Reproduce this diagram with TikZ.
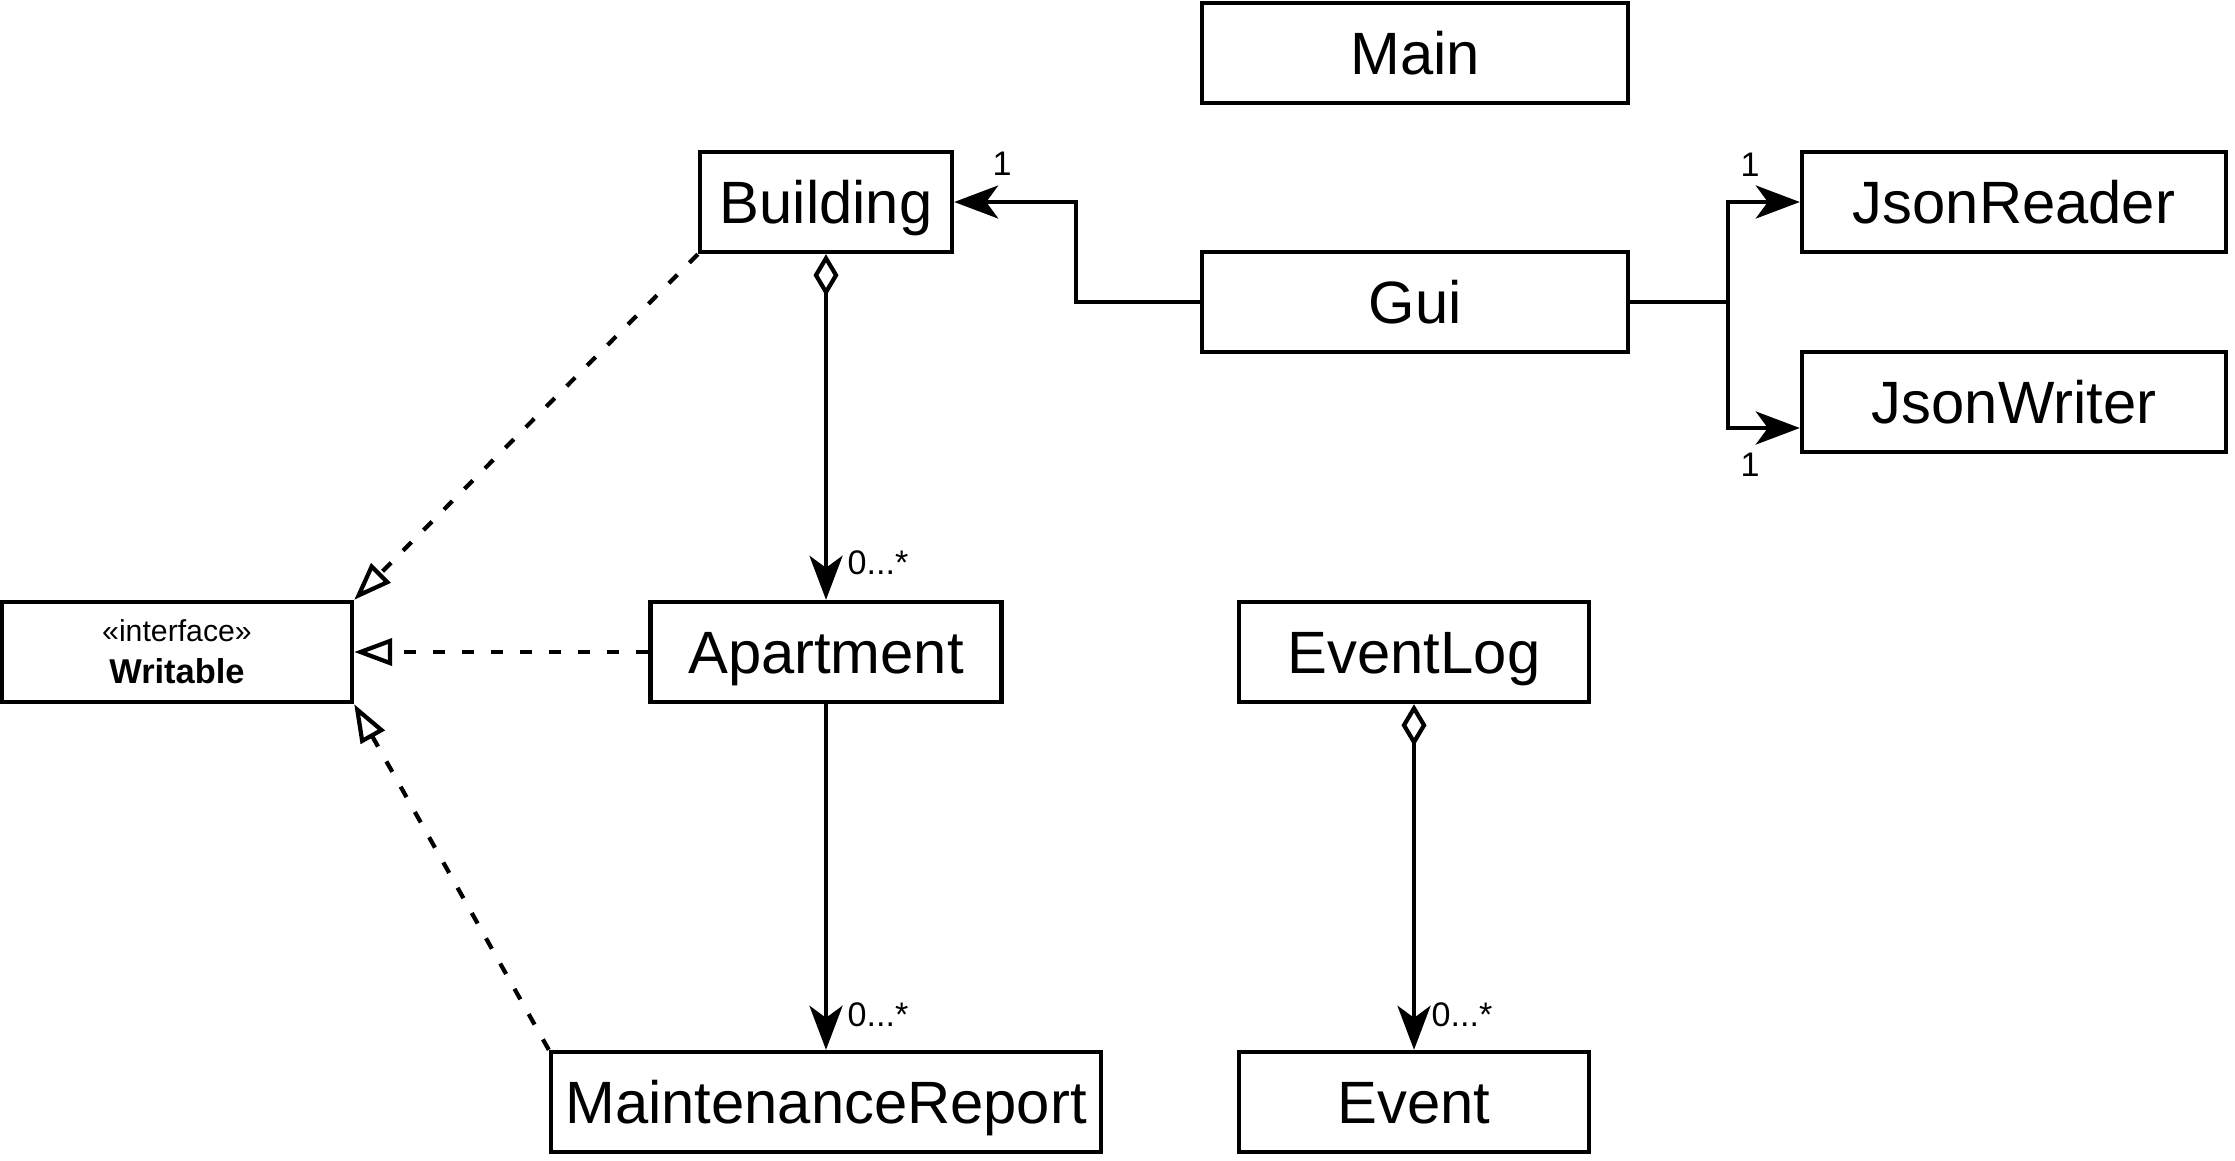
\documentclass[tikz,border=0pt]{standalone}
\usepackage{fontspec}
\setmainfont{Liberation Sans}
\usetikzlibrary{arrows.meta}

\begin{document}
\begin{tikzpicture}[
		box/.style={draw, line width=1.25pt, minimum height=1cm, inner sep=0pt},
		cls/.style={box, font=\fontsize{17}{20}\selectfont, text height=12.2pt, text depth=0pt},
		assoc/.style={line width=1.2pt, -{Stealth[length=0.44cm, width=0.33cm, inset=0.12cm]}},
		aggr/.style={line width=1.2pt, {Diamond[open, length=0.42cm, width=0.25cm]}-{Stealth[length=0.44cm, width=0.33cm, inset=0.12cm]}},
		realize/.style={line width=1.2pt, dash pattern=on 0.12cm off 0.17cm, -{Triangle[open, length=0.38cm, width=0.27cm]}},
		mult/.style={font=\fontsize{9.7}{11}\selectfont, inner sep=0pt}
	]
		%%Frame
		\useasboundingbox (0,0) rectangle (22.35,-11.6);
		%%Classes
		\node[cls, minimum width=4.26cm] (main) at (14.15,-0.53) {Main};
		\node[cls, minimum width=2.52cm] (building) at (8.26,-2.02) {Building};
		\node[cls, minimum width=4.26cm] (gui) at (14.15,-3.02) {Gui};
		\node[cls, minimum width=4.24cm] (jsonreader) at (20.14,-2.02) {JsonReader};
		\node[cls, minimum width=4.24cm] (jsonwriter) at (20.14,-4.02) {JsonWriter};
		\node[box, minimum width=3.50cm, align=center, font=\fontsize{9.8}{11.95}\selectfont] (writable) at (1.77,-6.52)
			{{\fontsize{8.6}{11.95}\selectfont «interface»}\\\textbf{Writable}};
		\node[cls, minimum width=3.51cm] (apartment) at (8.26,-6.52) {Apartment};
		\node[cls, minimum width=3.50cm] (eventlog) at (14.14,-6.52) {EventLog};
		\node[cls, minimum width=5.50cm] (maint) at (8.26,-11.02) {MaintenanceReport};
		\node[cls, minimum width=3.50cm] (event) at (14.14,-11.02) {Event};
		
		%%Associations
		\draw[assoc] (gui.west) -- ++(-1.24,0) |- (building.east);
		\draw[assoc] (gui.east) -- ++(0.98,0) |- (jsonreader.west);
		\draw[assoc] (gui.east) -- ++(0.98,0) |- ([yshift=-0.26cm]jsonwriter.west);
		\draw[aggr] (building.south) -- (apartment.north);
		\draw[assoc] (apartment.south) -- (maint.north);
		\draw[aggr] (eventlog.south) -- (event.north);
		
		%%Realizations
		\draw[realize] (building.south west) -- (writable.north east);
		\draw[realize] (apartment.west) -- (writable.east);
		\draw[realize] (maint.north west) -- (writable.south east);
		
		%%Multiplicities
		\node[mult] at (10.02,-1.64) {1};
		\node[mult] at (17.50,-1.65) {1};
		\node[mult] at (17.50,-4.65) {1};
		\node[mult, anchor=west] at (8.47,-5.63) {0...*};
		\node[mult, anchor=west] at (8.47,-10.15) {0...*};
		\node[mult, anchor=west] at (14.31,-10.15) {0...*};
\end{tikzpicture}
\end{document}
